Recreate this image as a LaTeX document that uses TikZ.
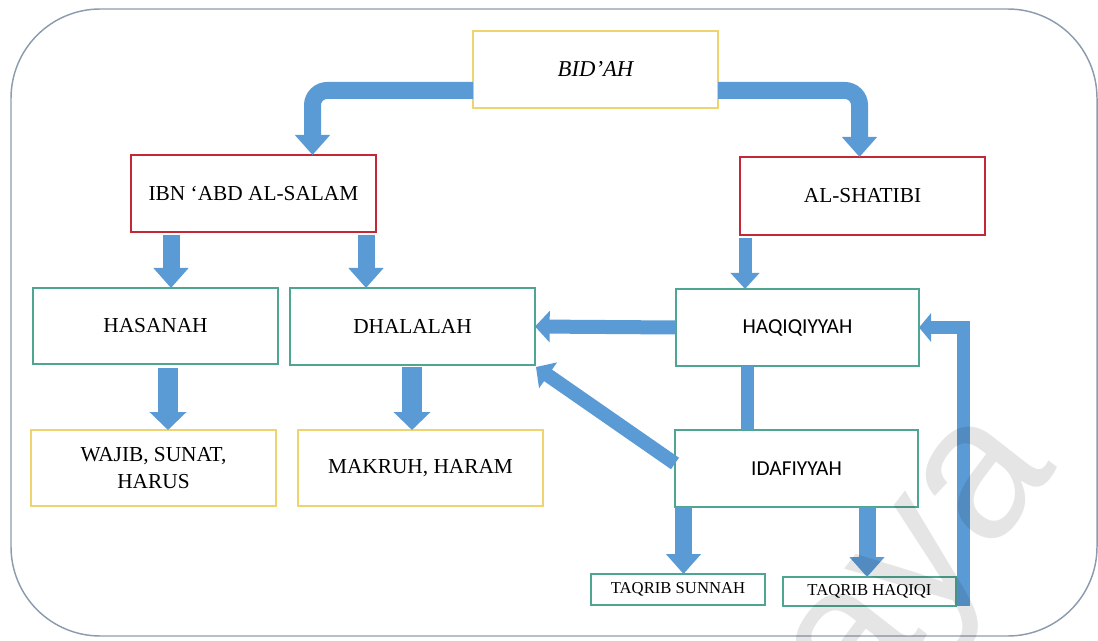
\documentclass[tikz,border=0pt]{standalone}
\usepackage{fontspec}
\setmainfont{Liberation Serif}
\newfontfamily\calib{Carlito}
\newfontfamily\wmfont{Liberation Sans}
\usetikzlibrary{arrows.meta,calc}
\definecolor{ab}{RGB}{91,155,213}
\definecolor{yb}{RGB}{238,212,112}
\definecolor{rb}{RGB}{196,40,52}
\definecolor{gb}{RGB}{78,165,145}
\definecolor{ob}{RGB}{140,156,174}
\begin{document}
\begin{tikzpicture}[x=0.75pt,y=-0.75pt,
  box/.style={draw, line width=0.9pt, inner sep=0pt, outer sep=0pt, align=center,
    font=\fontsize{16}{19}\selectfont},
  sz/.style n args={2}{minimum width=#1*0.75pt, minimum height=#2*0.75pt},
  ybox/.style={box, draw=yb},
  rbox/.style={box, draw=rb},
  gbox/.style={box, draw=gb},
  fat/.style={draw=ab, line width=12.75pt, -{Triangle[width=25.5pt,length=15pt]}},
  wide/.style={draw=ab, line width=15pt, -{Triangle[width=27pt,length=13.5pt]}},
  thin/.style={draw=ab, line width=9.75pt, -{Triangle[width=21pt,length=12pt]}},
  mid/.style={draw=ab, line width=10.5pt, -{Triangle[width=23pt,length=11pt]}},
  loopar/.style={draw=ab, line width=9.75pt, -{Triangle[width=21pt,length=9pt]}},
  bar/.style={draw=ab, line width=9.75pt}
]
\useasboundingbox (0,0) rectangle (1098,641);
\draw[ob, line width=1.1pt, rounded corners=67pt] (11,9) rectangle (1097,636);

% boxes
\node[ybox, sz={245}{77}, font=\fontsize{17}{20}\selectfont\itshape] (bid) at (595.5,69.5) {BID’AH};
\node[rbox, sz={245}{77}] (ibn) at (253.5,193.5) {IBN ‘ABD AL-SALAM};
\node[rbox, sz={245}{78}] (sha) at (862.5,196) {AL-SHATIBI};
\node[gbox, sz={245}{76}] (has) at (155.5,326) {HASANAH};
\node[gbox, sz={245}{77}] (dha) at (412.5,326.5) {DHALALAH};
\node[gbox, sz={243}{77}, font=\calib\fontsize{16}{19}\selectfont] (haq) at (797.5,327.5) {HAQIQIYYAH};
\node[gbox, sz={243}{77}, font=\calib\fontsize{16}{19}\selectfont] (ida) at (796.5,468.5) {IDAFIYYAH};
\node[ybox, sz={245}{76}, font=\fontsize{16}{20.5}\selectfont] (waj) at (153.5,468) {WAJIB, SUNAT,\\HARUS};
\node[ybox, sz={245}{76}] (mak) at (420.5,468) {MAKRUH, HARAM};
\node[gbox, sz={174}{31}, font=\fontsize{12.5}{14}\selectfont] (ts) at (678,589.5) {TAQRIB SUNNAH};
\node[gbox, sz={173}{29}, font=\fontsize{12.5}{14}\selectfont] (th) at (869.5,591.5) {TAQRIB HAQIQI};

% connectors
\draw[fat, rounded corners=11pt] ($(bid.west)+(0,21)$) -| ($(ibn.north)+(59,0)$);
\draw[fat, rounded corners=11pt] ($(bid.east)+(0,21)$) -| ($(sha.north)+(-3,0)$);

\coordinate (a3) at ($(ibn.south west)+(40,3)$);
\draw[fat] (a3) -- (a3 |- has.north);
\coordinate (a4) at ($(ibn.south west)+(235,3)$);
\draw[fat] (a4) -- (a4 |- dha.north);
\coordinate (a5) at ($(sha.south west)+(5,3)$);
\draw[thin] (a5) -- (a5 |- haq.north);
\coordinate (a6) at ($(has.south west)+(135,4)$);
\draw[wide] (a6) -- (a6 |- waj.north);
\coordinate (a7) at ($(dha.south west)+(122,2)$);
\draw[wide] (a7) -- (a7 |- mak.north);

\draw[mid] (haq.west) -- (dha.east);
\draw[mid] ($(ida.west)+(0,-5)$) -- ($(dha.south east)+(1,2)$);
\draw[bar] ($(haq.south west)+(71.5,0)$) -- ($(ida.north west)+(72.5,0)$);

\coordinate (a11) at ($(ida.south west)+(8.5,0)$);
\draw[fat] (a11) -- (a11 |- ts.north);
\coordinate (a12) at ($(ida.south west)+(192,0)$);
\draw[fat] (a12) -- (a12 |- th.north);

\coordinate (a13) at ($(th.south east)+(7.5,0)$);
\draw[loopar] (a13) -- (a13 |- haq.east) -- (haq.east);

% watermark
\node[rotate=52, opacity=0.1, font=\wmfont\fontsize{150}{150}\selectfont, anchor=base east, inner sep=0pt] (wm) at (1058,468) {Malaya};
\end{tikzpicture}
\end{document}
